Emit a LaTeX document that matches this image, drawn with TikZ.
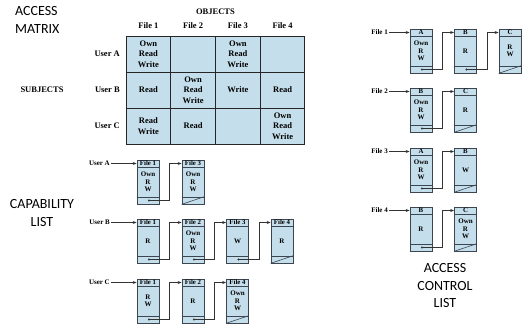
\documentclass[tikz,border=0pt]{standalone}
\usepackage{fontspec}
\setmainfont{Liberation Serif}
\newfontfamily\calib{Carlito}
\usetikzlibrary{arrows.meta}
\definecolor{cellblue}{RGB}{196,222,235}
\definecolor{boxline}{RGB}{60,70,80}
\newcommand\lbox[5]{%
  \node[bh] (#1-h) at (#2+11, #3+3.5) {#4};
  \node[bb] (#1-b) at (#2+11, #3+22) {#5};
  \node[bp] (#1-p) at (#2+11, #3+40.5) {};
}
\newcommand\nullbox[1]{\draw[boxline, line width=0.6pt] (#1-p.south west) -- (#1-p.north east);}
\begin{document}
\begin{tikzpicture}[x=1pt,y=-1pt,
 cell/.style={draw=black!85, line width=1pt, fill=cellblue, minimum width=44.75pt, minimum height=36pt, inner sep=0pt, align=center, font=\fontsize{8.5}{10.3}\selectfont\bfseries},
 hdr/.style={font=\fontsize{8.5}{9.5}\selectfont\bfseries, inner sep=1pt},
 bigl/.style={font=\calib\fontsize{14}{17.5}\selectfont, align=center, inner sep=0pt},
 bh/.style={draw=boxline, line width=0.7pt, fill=cellblue, minimum width=22pt, minimum height=7pt, inner sep=0pt, font=\fontsize{6.8}{7}\selectfont\bfseries},
 bb/.style={bh, minimum height=30pt, align=center, font=\fontsize{7}{7.5}\selectfont\bfseries},
 bp/.style={bh, minimum height=7pt},
 ptr/.style={draw=black!80, line width=0.6pt, {Circle[length=2pt]}-{Stealth[length=4pt,width=3pt]}},
 arr/.style={draw=black!80, line width=0.6pt, -{Stealth[length=4pt,width=3pt]}},
 lbl/.style={font=\fontsize{7}{8}\selectfont\bfseries, anchor=east, inner sep=1pt}
]
\useasboundingbox (0,0) rectangle (528,324);

% ---------- big labels
\node[bigl, anchor=west, align=left] (am) at (15,20) {ACCESS\\MATRIX};
\node[bigl] (cl) at (42,213) {CAPABILITY\\LIST};
\node[bigl] (acl) at (445,286) {ACCESS\\CONTROL\\LIST};

% ---------- access matrix
\node[hdr] (obj) at (215.5,12) {OBJECTS};
\node[hdr] (f1) at (148.4,26) {File 1};
\node[hdr] (f2) at (193.1,26) {File 2};
\node[hdr] (f3) at (237.9,26) {File 3};
\node[hdr] (f4) at (282.6,26) {File 4};
\node[hdr, anchor=east] (rA) at (121,54) {User A};
\node[hdr, anchor=east] (rB) at (121,90) {User B};
\node[hdr, anchor=east] (rC) at (121,126) {User C};
\node[hdr] (subj) at (42,90) {SUBJECTS};

\node[cell] (mA1) at (148.4,54) {Own\\Read\\Write};
\node[cell] (mA2) at (193.1,54) {};
\node[cell] (mA3) at (237.9,54) {Own\\Read\\Write};
\node[cell] (mA4) at (282.6,54) {};
\node[cell] (mB1) at (148.4,90) {Read};
\node[cell] (mB2) at (193.1,90) {Own\\Read\\Write};
\node[cell] (mB3) at (237.9,90) {Write};
\node[cell] (mB4) at (282.6,90) {Read};
\node[cell] (mC1) at (148.4,126) {Read\\Write};
\node[cell] (mC2) at (193.1,126) {Read};
\node[cell] (mC3) at (237.9,126) {};
\node[cell] (mC4) at (282.6,126) {Own\\Read\\Write};

% ---------- capability lists
\node[lbl] (uA) at (111,163.5) {User A};
\lbox{cA1}{137}{160}{File 1}{Own\\R\\W}
\lbox{cA3}{182}{160}{File 3}{Own\\R\\W}
\nullbox{cA3}
\draw[arr] (uA) -- (cA1-h);
\draw[ptr] (cA1-p.center) -- ([xshift=10pt]cA1-p.east) |- (cA3-h.west);

\node[lbl] (uB) at (111,222.5) {User B};
\lbox{cB1}{137}{219}{File 1}{R}
\lbox{cB2}{182}{219}{File 2}{Own\\R\\W}
\lbox{cB3}{226.5}{219}{File 3}{W}
\lbox{cB4}{271}{219}{File 4}{R}
\nullbox{cB4}
\draw[arr] (uB) -- (cB1-h);
\draw[ptr] (cB1-p.center) -- ([xshift=10pt]cB1-p.east) |- (cB2-h.west);
\draw[ptr] (cB2-p.center) -- ([xshift=10pt]cB2-p.east) |- (cB3-h.west);
\draw[ptr] (cB3-p.center) -- ([xshift=10pt]cB3-p.east) |- (cB4-h.west);

\node[lbl] (uC) at (111,282.5) {User C};
\lbox{cC1}{137}{279}{File 1}{R\\W}
\lbox{cC2}{182}{279}{File 2}{R}
\lbox{cC4}{226.5}{279}{File 4}{Own\\R\\W}
\nullbox{cC4}
\draw[arr] (uC) -- (cC1-h);
\draw[ptr] (cC1-p.center) -- ([xshift=10pt]cC1-p.east) |- (cC2-h.west);
\draw[ptr] (cC2-p.center) -- ([xshift=10pt]cC2-p.east) |- (cC4-h.west);

% ---------- access control lists
\node[lbl] (a1) at (389,32.5) {File 1};
\lbox{a1A}{410}{29}{A}{Own\\R\\W}
\lbox{a1B}{454.5}{29}{B}{R}
\lbox{a1C}{499}{29}{C}{R\\W}
\nullbox{a1C}
\draw[arr] (a1) -- (a1A-h);
\draw[ptr] (a1A-p.center) -- ([xshift=10pt]a1A-p.east) |- (a1B-h.west);
\draw[ptr] (a1B-p.center) -- ([xshift=10pt]a1B-p.east) |- (a1C-h.west);

\node[lbl] (a2) at (389,91.5) {File 2};
\lbox{a2B}{410}{88}{B}{Own\\R\\W}
\lbox{a2C}{454.5}{88}{C}{R}
\nullbox{a2C}
\draw[arr] (a2) -- (a2B-h);
\draw[ptr] (a2B-p.center) -- ([xshift=10pt]a2B-p.east) |- (a2C-h.west);

\node[lbl] (a3) at (389,151.5) {File 3};
\lbox{a3A}{410}{148}{A}{Own\\R\\W}
\lbox{a3B}{454.5}{148}{B}{W}
\nullbox{a3B}
\draw[arr] (a3) -- (a3A-h);
\draw[ptr] (a3A-p.center) -- ([xshift=10pt]a3A-p.east) |- (a3B-h.west);

\node[lbl] (a4) at (389,210.5) {File 4};
\lbox{a4B}{410}{207}{B}{R}
\lbox{a4C}{454.5}{207}{C}{Own\\R\\W}
\nullbox{a4C}
\draw[arr] (a4) -- (a4B-h);
\draw[ptr] (a4B-p.center) -- ([xshift=10pt]a4B-p.east) |- (a4C-h.west);
\end{tikzpicture}
\end{document}
